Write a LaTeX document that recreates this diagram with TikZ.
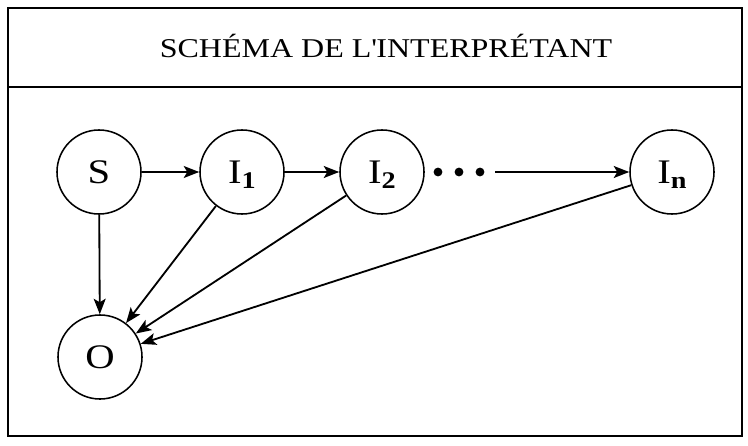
\documentclass[tikz,border=0pt]{standalone}
\usepackage{fontspec}
\setmainfont{Liberation Serif}[FakeStretch=1.18]
\usetikzlibrary{arrows.meta}
\newcommand{\isub}[1]{\raisebox{-3.5pt}{\fontsize{17pt}{17pt}\selectfont\bfseries #1}}

\begin{document}
\begin{tikzpicture}[x=0.025cm, y=-0.025cm,
    sign/.style={draw, circle, line width=1.1pt, minimum size=2.1cm, inner sep=0pt, font=\fontsize{24.5pt}{26pt}\selectfont, text height=0.575cm, text depth=0pt},
    arr/.style={-{Stealth[length=11pt,width=8.5pt,inset=2.5pt]}, line width=1.3pt},
    frame/.style={line width=1.2pt}
]
\useasboundingbox (0,0) rectangle (748,446);
\draw[frame] (8,8) rectangle (742,436);
\draw[frame] (8,87) -- (742,87);
\node[font=\fontsize{19.3pt}{22pt}\selectfont, anchor=base] (title) at (386,58) {SCHÉMA DE L\textquotesingle INTERPRÉTANT};

\node[sign] (S) at (99,172) {S};
\node[sign] (I1) at (242,172) {I\isub{1}};
\node[sign] (I2) at (382,172) {I\isub{2}};
\node[inner sep=0pt, minimum width=1.8cm, minimum height=0.3cm] (dots) at (459,172) {};
\node[sign] (In) at (672,172) {I\isub{n}};
\node[sign] (O) at (100,357) {O};

\foreach \x in {438,459,480}
    \fill (\x,172) circle (0.11cm);

\draw[arr] (S) -- (I1);
\draw[arr] (I1) -- (I2);
\draw[arr] (dots.east) -- (In);
\draw[arr] (S) -- (O);
\draw[arr] (I1) -- (O);
\draw[arr] (I2) -- (O);
\draw[arr] (In) -- (O);
\end{tikzpicture}
\end{document}
